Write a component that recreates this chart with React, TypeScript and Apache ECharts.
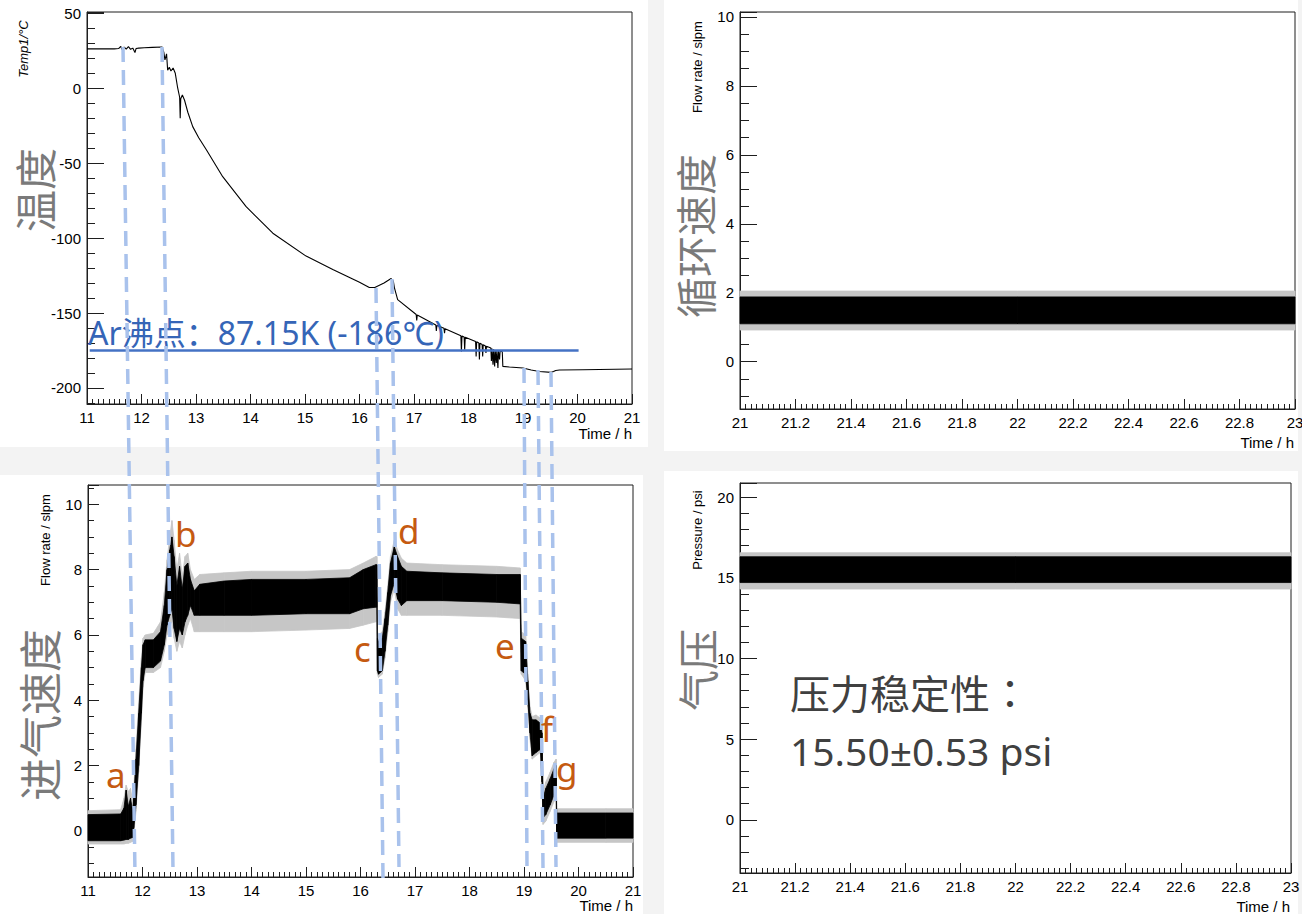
import React, { useEffect, useRef } from "react";
import * as echarts from "echarts";

// ---------- Temperature (top-left panel), hours vs °C ----------
const tempTime = [
  11.0, 11.5, 11.58, 11.62, 11.64, 11.68, 11.72, 11.76, 11.8, 11.84, 11.88, 11.9, 11.95, 12.05, 12.2, 12.38,
  12.41, 12.43, 12.46, 12.48, 12.51, 12.54, 12.58, 12.62, 12.66, 12.7, 12.71, 12.72, 12.75, 12.79, 12.85,
  12.94, 13.05, 13.19, 13.49, 13.92, 14.41, 15.02, 15.51, 16.0, 16.18, 16.28, 16.45, 16.58, 16.62, 16.64,
  16.67, 16.7, 17.04, 17.05, 17.06, 17.4, 17.41, 17.42, 17.47, 17.55, 17.56, 17.57, 17.86, 17.87, 17.88,
  17.92, 17.93, 17.94, 18.13, 18.14, 18.15, 18.19, 18.2, 18.21, 18.25, 18.26, 18.27, 18.31, 18.32, 18.33,
  18.41, 18.42, 18.43, 18.44, 18.45, 18.46, 18.47, 18.48, 18.49, 18.5, 18.51, 18.52, 18.53, 18.54, 18.55,
  18.56, 18.57, 18.58, 18.6, 18.62, 18.63, 18.75, 19.0, 19.15, 19.3, 19.52, 19.56, 19.6, 19.67, 20.1, 21.0,
];
const tempValue = [
  26.3, 26.3, 26.5, 28.0, 26.0, 27.5, 26.2, 27.8, 26.0, 26.8, 23.8, 26.5, 26.8, 27.0, 27.3, 27.5,
  24.0, 19.0, 23.0, 12.0, 14.0, 11.5, 13.5, 10.0, 1.0, -6.0, -20.0, -7.0, -4.5, -8.0, -16.0,
  -25.6, -33.0, -41.0, -59.0, -79.0, -96.7, -112.0, -121.0, -129.5, -133.0, -133.0, -130.0, -127.0, -128.5, -133.0,
  -137.0, -141.0, -151.0, -155.0, -151.3, -158.0, -162.0, -158.3, -159.0, -160.2, -163.5, -160.4, -165.2, -175.6, -165.4,
  -166.0, -174.5, -166.2, -169.0, -179.0, -169.2, -170.0, -181.0, -170.2, -171.0, -179.0, -171.2, -172.0, -176.7, -172.2,
  -173.4, -182.0, -173.7, -174.0, -184.5, -174.2, -174.4, -185.6, -174.7, -175.0, -183.3, -175.1, -175.2, -186.7, -175.3,
  -175.4, -181.0, -175.5, -175.6, -175.8, -185.6, -186.0, -186.7, -188.0, -189.0, -189.6, -189.0, -188.3, -188.0, -187.8, -187.3,
];
// Ar boiling-point marker line as drawn on the temperature panel
const arLineTemp = -174.5;
const arLineFrom = 11.05;
const arLineTo = 20.02;

// ---------- Inlet flow (bottom-left panel): dense band envelopes ----------
const inflowTime = [
  11.0, 11.6, 11.66, 11.7, 11.74, 11.78, 11.82, 11.84, 11.88, 11.93, 11.98, 12.01, 12.05, 12.2, 12.33, 12.4,
  12.45, 12.5, 12.54, 12.58, 12.63, 12.68, 12.73, 12.78, 12.83, 12.88, 12.95, 13.05, 13.5, 14.0, 15.0, 15.8,
  16.05, 16.28, 16.3, 16.31, 16.33, 16.4, 16.45, 16.5, 16.55, 16.62, 16.68, 16.75, 16.85, 17.5, 18.5, 18.93,
  18.95, 19.03, 19.07, 19.11, 19.15, 19.22, 19.3, 19.33, 19.35, 19.4, 19.48, 19.55, 19.59, 19.6, 20.5, 21.0,
];
const inflowCoreLow = [
  -0.3, -0.3, -0.28, -0.26, -0.26, -0.22, -0.2, 0.1, 0.8, 2.0, 3.6, 4.6, 5.0, 5.0, 5.2, 5.7,
  6.3, 6.6, 6.8, 6.2, 5.8, 6.2, 6.0, 6.4, 6.6, 6.9, 6.6, 6.6, 6.6, 6.6, 6.65, 6.65,
  6.8, 6.85, 6.85, 4.9, 4.8, 4.9, 5.5, 6.3, 7.2, 7.6, 7.1, 6.9, 7.05, 7.05, 7.0, 6.95,
  4.9, 4.8, 4.0, 3.0, 2.3, 2.4, 2.5, 1.5, 0.4, 0.5, 0.8, 1.1, 1.2, -0.22, -0.22, -0.22,
];
const inflowCoreHigh = [
  0.5, 0.52, 0.7, 1.25, 0.75, 1.0, 0.6, 1.0, 2.2, 3.6, 5.0, 5.7, 5.85, 5.85, 6.1, 6.9,
  8.0, 8.6, 9.0, 8.4, 7.5, 8.1, 7.4, 8.1, 8.2, 7.7, 7.35, 7.55, 7.65, 7.7, 7.7, 7.75,
  8.0, 8.15, 8.15, 5.9, 5.8, 5.9, 6.5, 7.3, 8.2, 8.7, 8.4, 8.1, 7.95, 7.9, 7.85, 7.85,
  5.9, 5.8, 4.6, 3.6, 3.4, 3.4, 3.3, 3.0, 1.0, 1.3, 1.6, 1.9, 2.0, 0.55, 0.55, 0.55,
];
const inflowHaloLow = [
  -0.4, -0.4, -0.4, -0.38, -0.38, -0.35, -0.32, -0.1, 0.6, 1.8, 3.4, 4.4, 4.85, 4.85, 5.0, 5.5,
  6.0, 6.3, 6.4, 5.9, 5.5, 5.8, 5.6, 6.0, 6.3, 6.5, 6.1, 6.1, 6.1, 6.1, 6.15, 6.2,
  6.3, 6.4, 6.4, 4.8, 4.7, 4.8, 5.3, 6.1, 7.0, 7.4, 6.8, 6.6, 6.6, 6.6, 6.55, 6.5,
  4.8, 4.6, 3.8, 2.8, 2.2, 2.3, 2.4, 1.4, 0.2, 0.3, 0.6, 0.9, 1.0, -0.35, -0.35, -0.35,
];
const inflowHaloHigh = [
  0.62, 0.65, 1.0, 1.4, 1.2, 1.3, 0.9, 1.3, 2.5, 3.9, 5.3, 5.9, 6.0, 6.05, 6.4, 7.3,
  8.3, 9.0, 9.5, 8.9, 8.0, 8.5, 7.8, 8.4, 8.5, 8.0, 7.7, 7.85, 7.9, 7.95, 7.95, 8.0,
  8.2, 8.4, 8.4, 6.1, 6.0, 6.1, 6.7, 7.5, 8.4, 8.9, 8.6, 8.35, 8.2, 8.15, 8.1, 8.05,
  6.1, 6.0, 4.8, 3.8, 3.5, 3.55, 3.45, 3.2, 1.2, 1.5, 1.8, 2.1, 2.2, 0.68, 0.68, 0.68,
];

// ---------- Circulation flow (top-right panel) ----------
const circTime = [21, 22, 23];
const circCoreLow = [1.1, 1.1, 1.1];
const circCoreHigh = [1.88, 1.88, 1.88];
const circHaloLow = [0.92, 0.92, 0.92];
const circHaloHigh = [2.05, 2.05, 2.05];

// ---------- Pressure (bottom-right panel) ----------
const pressTime = [21, 22, 23];
const pressCoreLow = [14.7, 14.7, 14.7];
const pressCoreHigh = [16.3, 16.3, 16.3];
const pressHaloLow = [14.3, 14.3, 14.3];
const pressHaloHigh = [16.55, 16.55, 16.55];

// ---------- Annotation texts ----------
const bigLabels = ["温度", "进气速度", "循环速度", "气压"];
const stageLetters = ["a", "b", "c", "d", "e", "f", "g"];
const arText = "Ar沸点：87.15K (-186℃)";
const stabilityTitle = "压力稳定性：";
const stabilityValue = "15.50±0.53 psi";

function bandRows(t: number[], lo: number[], hi: number[]) {
  const rows: number[][] = [];
  for (let i = 0; i < t.length - 1; i++) {
    rows.push([t[i], lo[i], hi[i], t[i + 1], lo[i + 1], hi[i + 1]]);
  }
  return rows;
}

function bandSeries(axis: number, rows: number[][], color: string, z: number) {
  return {
    type: "custom",
    xAxisIndex: axis,
    yAxisIndex: axis,
    data: rows,
    silent: true,
    z,
    encode: { x: [0, 3], y: [1, 2, 4, 5] },
    renderItem: (_p: any, api: any) => {
      const a = api.coord([api.value(0), api.value(1)]);
      const b = api.coord([api.value(3), api.value(4)]);
      const c = api.coord([api.value(3), api.value(5)]);
      const d = api.coord([api.value(0), api.value(2)]);
      return {
        type: "polygon",
        shape: { points: [a, b, c, d] },
        style: { fill: color, stroke: color, lineWidth: 0.8 },
      };
    },
  };
}

const AX = "#1e1e1e";
const TICK_FONT = "'Liberation Sans', Arial, sans-serif";
const HALO = "#c6c6c6";

function fmtNum(v: number) {
  return String(Number(v.toFixed(3)));
}

function xAxisCfg(gi: number, min: number, max: number, interval: number, minorSplit: number) {
  return {
    type: "value",
    gridIndex: gi,
    min,
    max,
    interval,
    axisLine: { show: true, onZero: false, lineStyle: { color: AX, width: 1 } },
    axisTick: { show: true, inside: true, length: 10, lineStyle: { color: AX, width: 1 } },
    minorTick: { show: true, splitNumber: minorSplit, length: 5, lineStyle: { color: AX, width: 1 } },
    splitLine: { show: false },
    minorSplitLine: { show: false },
    axisLabel: { color: "#000", fontFamily: TICK_FONT, fontSize: 15, margin: 6, formatter: (v: number) => fmtNum(v) },
  };
}

function yAxisCfg(gi: number, min: number, max: number, step: number, minorSplit: number, majLen: number, minLen: number) {
  return {
    type: "value",
    gridIndex: gi,
    min,
    max,
    minInterval: step,
    maxInterval: step,
    splitNumber: Math.round((max - min) / step),
    axisLine: { show: true, onZero: false, lineStyle: { color: AX, width: 1 } },
    axisTick: { show: true, inside: true, length: majLen, lineStyle: { color: AX, width: 1 } },
    minorTick: { show: true, splitNumber: minorSplit, length: minLen, lineStyle: { color: AX, width: 1 } },
    splitLine: { show: false },
    minorSplitLine: { show: false },
    axisLabel: {
      color: "#000",
      fontFamily: TICK_FONT,
      fontSize: 15,
      margin: 6,
      formatter: (v: number) => {
        const k = v / step;
        return Math.abs(k - Math.round(k)) < 1e-6 ? fmtNum(v) : "";
      },
    },
  };
}

const gridBase = {
  show: true,
  backgroundColor: "#ffffff",
  borderColor: AX,
  borderWidth: 1,
  containLabel: false,
  outerBoundsMode: "none",
};

export default function App() {
  const ref = useRef<HTMLDivElement>(null);

  useEffect(() => {
    document.body.style.margin = "0";
    if (!ref.current) return;
    const chart = echarts.init(ref.current, undefined, { renderer: "svg" });

    const tempData = tempTime.map((t, i) => [t, tempValue[i]]);

    const smallFont = "'Liberation Sans', Arial, sans-serif";
    const cjkFont = "'Noto Sans CJK SC', 'Noto Sans', sans-serif";
    const cjkTcFont = "'Noto Sans CJK TC', 'Noto Sans CJK SC', sans-serif";
    const latinCjk = "'Noto Sans', 'Noto Sans CJK SC', sans-serif";
    const vText = (text: string, x: number, y: number, size: number, color: string, font: string, italic = false, z = 5) => ({
      type: "text",
      x,
      y,
      rotation: Math.PI / 2,
      z,
      style: {
        text,
        fill: color,
        font: `${italic ? "italic " : ""}${size}px ${font}`,
        align: "center",
        verticalAlign: "middle",
      },
    });
    const hText = (text: string, x: number, y: number, size: number, color: string, font: string, align = "left", z = 50) => ({
      type: "text",
      x,
      y,
      z,
      style: { text, fill: color, font: `${size}px ${font}`, align, verticalAlign: "middle" },
    });
    const dash = (x1: number, y1: number, x2: number, y2: number) => ({
      type: "line",
      z: 60,
      silent: true,
      shape: { x1, y1, x2, y2 },
      style: { stroke: "#a9c2ec", lineWidth: 3.5, lineDash: [15, 8] },
    });
    const pad = (x: number, y: number, w: number, h: number) => ({
      type: "rect",
      z: -100,
      silent: true,
      shape: { x, y, width: w, height: h },
      style: { fill: "#ffffff" },
    });

    const letterPos: [number, number][] = [
      [106, 774],
      [175, 533],
      [354, 648],
      [398, 530],
      [495, 645],
      [541, 728],
      [556, 768],
    ];

    const option: any = {
      animation: false,
      backgroundColor: "#f3f3f3",
      grid: [
        { ...gridBase, left: 87, top: 12, width: 545, height: 392 },
        { ...gridBase, left: 88, top: 485, width: 545, height: 392 },
        { ...gridBase, left: 740, top: 12, width: 555, height: 397 },
        { ...gridBase, left: 740, top: 483, width: 551, height: 390 },
      ],
      xAxis: [
        xAxisCfg(0, 11, 21, 1, 10),
        xAxisCfg(1, 11, 21, 1, 10),
        xAxisCfg(2, 21, 23, 0.2, 10),
        xAxisCfg(3, 21, 23, 0.2, 10),
      ],
      yAxis: [
        yAxisCfg(0, -210.7, 50.9, 50, 5, 17, 8),
        yAxisCfg(1, -1.41, 10.59, 2, 4, 11, 6),
        yAxisCfg(2, -1.37, 10.14, 2, 4, 17, 9),
        yAxisCfg(3, -3.3, 20.87, 5, 5, 17, 9),
      ],
      series: [
        {
          type: "line",
          xAxisIndex: 0,
          yAxisIndex: 0,
          data: tempData,
          showSymbol: false,
          symbol: "none",
          silent: true,
          z: 3,
          lineStyle: { color: "#000", width: 1.1 },
          markLine: {
            silent: true,
            symbol: ["none", "none"],
            label: { show: false },
            lineStyle: { color: "#4472c4", width: 2.5, type: "solid" },
            data: [[{ coord: [arLineFrom, arLineTemp] }, { coord: [arLineTo, arLineTemp] }]],
          },
        },
        bandSeries(1, bandRows(inflowTime, inflowHaloLow, inflowHaloHigh), HALO, 2),
        bandSeries(1, bandRows(inflowTime, inflowCoreLow, inflowCoreHigh), "#000000", 3),
        bandSeries(2, bandRows(circTime, circHaloLow, circHaloHigh), HALO, 2),
        bandSeries(2, bandRows(circTime, circCoreLow, circCoreHigh), "#000000", 3),
        bandSeries(3, bandRows(pressTime, pressHaloLow, pressHaloHigh), HALO, 2),
        bandSeries(3, bandRows(pressTime, pressCoreLow, pressCoreHigh), "#000000", 3),
      ],
      graphic: [
        pad(0, 0, 648, 447),
        pad(0, 475, 643, 439),
        pad(664, 0, 634, 451),
        pad(664, 471, 634, 443),
        // axis titles
        vText("Temp1/°C", 23, 49, 13, "#000", smallFont, true),
        vText("Flow rate / slpm", 45, 540, 13, "#000", smallFont),
        vText("Flow rate / slpm", 697, 67, 13, "#000", smallFont),
        vText("Pressure / psi", 697, 530, 13, "#000", smallFont),
        hText("Time / h", 632, 433, 15, "#000", smallFont, "right"),
        hText("Time / h", 633, 905, 15, "#000", smallFont, "right"),
        hText("Time / h", 1294, 442, 15, "#000", smallFont, "right"),
        hText("Time / h", 1290, 906, 15, "#000", smallFont, "right"),
        // big grey panel captions
        vText(bigLabels[0], 33, 190, 42, "#7a7a7a", cjkFont),
        vText(bigLabels[1], 38, 715, 43, "#7a7a7a", cjkFont),
        vText(bigLabels[2], 694, 236, 41, "#7a7a7a", cjkFont),
        vText(bigLabels[3], 696, 670, 41, "#7a7a7a", cjkFont),
        // Ar boiling point text
        hText(arText, 88, 332, 32, "#3565b7", latinCjk, "left", 55),
        // stability text
        hText(stabilityTitle, 790, 692, 40, "#404040", cjkTcFont),
        hText(stabilityValue, 790, 750, 39, "#404040", latinCjk),
        // dashed guide lines
        dash(123, 47, 135, 875),
        dash(162, 47, 173, 870),
        dash(376, 288, 383, 878),
        dash(392, 279, 399, 867),
        dash(524, 368, 527, 868),
        dash(538, 370, 543, 868),
        dash(551, 372, 556, 867),
        // stage letters
        ...stageLetters.map((s, i) => hText(s, letterPos[i][0], letterPos[i][1], 35, "#c55a11", latinCjk, "left", 70)),
      ],
    };

    chart.setOption(option);
    return () => chart.dispose();
  }, []);

  return <div ref={ref} style={{ width: 1302, height: 914 }} />;
}
